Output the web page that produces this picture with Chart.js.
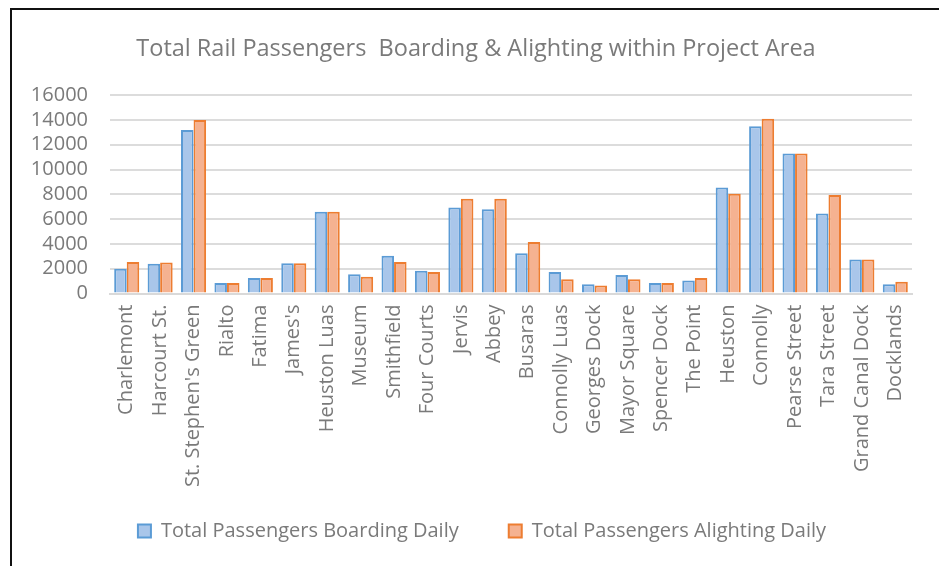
<!DOCTYPE html>
<html>
<head>
<meta charset="utf-8">
<script src="https://cdn.jsdelivr.net/npm/chart.js@4"></script>
<style>
  html, body { margin: 0; padding: 0; background: #fff; }
  .frame {
    position: absolute; left: 10px; top: 8px; width: 929px; height: 558px;
    border-left: 2px solid #111; border-top: 2px solid #111; box-sizing: border-box;
  }
  .wrap { position: absolute; left: 0; top: 0; width: 939px; height: 566px; }
</style>
</head>
<body>
<div class="frame"></div>
<div class="wrap"><canvas id="railChart"></canvas></div>
<script>
const stations = [
  'Charlemont', 'Harcourt St.', "St. Stephen's Green", 'Rialto', 'Fatima', "James's",
  'Heuston Luas', 'Museum', 'Smithfield', 'Four Courts', 'Jervis', 'Abbey', 'Busaras',
  'Connolly Luas', 'Georges Dock', 'Mayor Square', 'Spencer Dock', 'The Point', 'Heuston',
  'Connolly', 'Pearse Street', 'Tara Street', 'Grand Canal Dock', 'Docklands'
];
const boardingDaily = [2000, 2400, 13200, 850, 1250, 2450, 6600, 1550, 3050, 1850, 6950, 6800,
  3250, 1750, 750, 1500, 850, 1050, 8550, 13500, 11300, 6450, 2750, 750];
const alightingDaily = [2550, 2500, 14000, 850, 1250, 2450, 6600, 1350, 2550, 1750, 7650, 7650,
  4150, 1150, 650, 1150, 850, 1250, 8050, 14100, 11300, 7950, 2750, 950];
const yMax = 16000;
const yStep = 2000;

const textGrey = '#7a7a7a';
const fontFamily = '"Open Sans", "Liberation Sans", sans-serif';

// nudge title / legend boxes after layout (Excel centres them a bit differently)
const shiftBoxes = {
  id: 'shiftBoxes',
  afterLayout(chart) {
    const t = chart.titleBlock;
    if (t) { t.left += 14; t.right += 14; }
    const lg = chart.legend;
    if (lg) { lg.left += 20; lg.right += 20; lg.top -= 27; lg.bottom -= 27; }
  },
};

const ctx = document.getElementById('railChart').getContext('2d');
new Chart(ctx, {
  type: 'bar',
  data: {
    labels: stations,
    datasets: [
      {
        label: 'Total Passengers Boarding Daily',
        data: boardingDaily,
        backgroundColor: '#a9c6ea',
        borderColor: '#5b9bd5',
        borderWidth: 2,
        categoryPercentage: 0.75,
        barPercentage: 1.0,
      },
      {
        label: 'Total Passengers Alighting Daily',
        data: alightingDaily,
        backgroundColor: '#f5b291',
        borderColor: '#ed7d31',
        borderWidth: 2,
        categoryPercentage: 0.75,
        barPercentage: 1.0,
      },
    ],
  },
  plugins: [shiftBoxes],
  options: {
    responsive: true,
    maintainAspectRatio: false,
    animation: false,
    layout: { padding: { left: 12, right: 27, top: 10, bottom: -12 } },
    plugins: {
      title: {
        display: true,
        text: 'Total Rail Passengers  Boarding & Alighting within Project Area',
        color: textGrey,
        font: { family: fontFamily, size: 23.5, weight: 'normal' },
        padding: { top: 25, bottom: 32 },
      },
      legend: {
        position: 'bottom',
        labels: {
          color: textGrey,
          font: { family: fontFamily, size: 20 },
          boxWidth: 13,
          boxHeight: 13,
          padding: 50,
        },
      },
      tooltip: { enabled: false },
    },
    scales: {
      x: {
        grid: { display: false, drawTicks: false },
        border: { color: '#d9d9d9', width: 2 },
        ticks: {
          color: textGrey,
          font: { family: fontFamily, size: 20 },
          minRotation: 90,
          maxRotation: 90,
          autoSkip: false,
          padding: 11,
        },
      },
      y: {
        min: 0,
        max: yMax,
        afterFit(scale) { scale.width = 98; },
        ticks: {
          stepSize: yStep,
          autoSkip: false,
          color: textGrey,
          font: { family: fontFamily, size: 20 },
          padding: 22,
          callback: (v) => String(v),
        },
        grid: { color: '#dcdcdc', lineWidth: 2, drawTicks: false },
        border: { display: false },
      },
    },
  },
});
</script>
</body>
</html>
